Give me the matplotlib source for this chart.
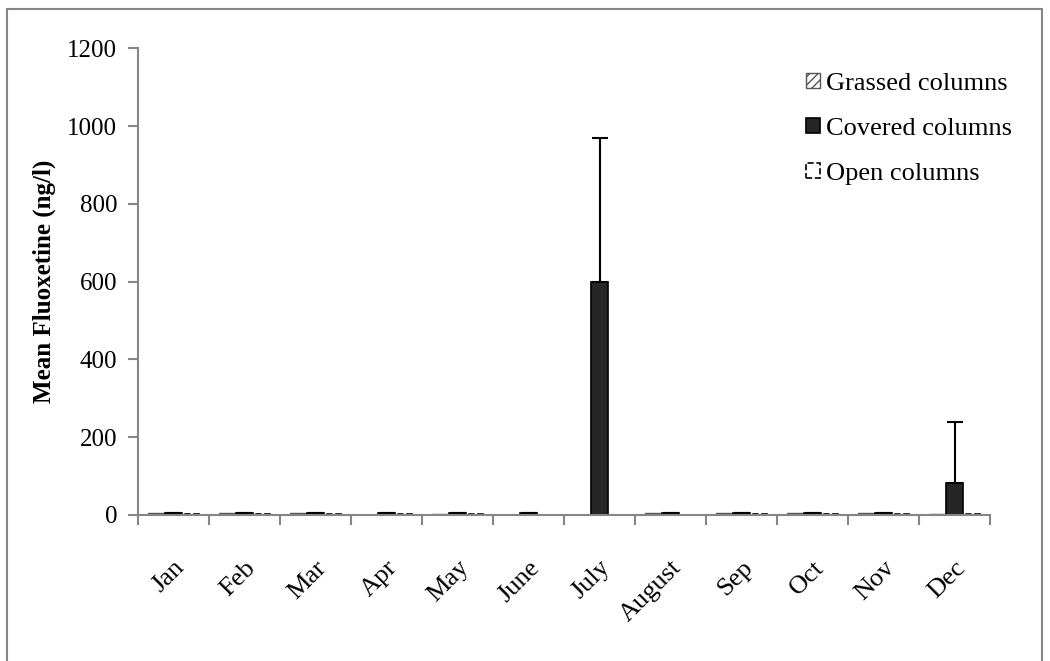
import numpy as np
import matplotlib
matplotlib.use("Agg")
import matplotlib.pyplot as plt
from matplotlib.patches import Rectangle

plt.rcParams['font.family'] = ['Liberation Serif', 'DejaVu Serif']
plt.rcParams['hatch.color'] = '#9a9a9a'
plt.rcParams['hatch.linewidth'] = 1.0

# Data
months = ["Jan", "Feb", "Mar", "Apr", "May", "June", "July", "August", "Sep", "Oct", "Nov", "Dec"]
grassed = [4, 4, 4, 0, 3, 0, 0, 4, 4, 4, 4, 3]
covered = [4, 4, 4, 4, 4, 4, 600, 4, 4, 4, 4, 82]
open_cols = [3, 3, 3, 3, 3, 0, 0, 0, 3, 3, 3, 3]
covered_err = [0, 0, 0, 0, 0, 0, 368, 0, 0, 0, 0, 158]

fig = plt.figure(figsize=(10.5, 6.61), dpi=100)
ax = fig.add_axes([0.1314, 0.221, 0.8116, 0.706])

x = np.arange(len(months))
w = 0.24
gray = '#868686'

ax.bar(x - w, grassed, w, color='white', edgecolor='#555555', hatch='////', linewidth=1.0,
       label='Grassed columns')
ax.bar(x, covered, w, color='#262626', edgecolor='black', linewidth=1.2,
       label='Covered columns')
ax.errorbar(x, covered, yerr=[np.zeros(len(covered)), covered_err], fmt='none',
            ecolor='black', elinewidth=1.5, capsize=6, capthick=1.5)
ax.bar(x + w, open_cols, w, color='white', edgecolor='black', linestyle='--', linewidth=1.2,
       label='Open columns')

ax.set_xlim(-0.5, len(months) - 0.5)
ax.set_ylim(0, 1200)
ax.set_yticks(range(0, 1201, 200))

ax.set_xticks(x)
ax.set_xticklabels(months, rotation=45, ha='right', rotation_mode='anchor', fontsize=19)
ax.set_xticks(np.arange(-0.5, len(months), 1), minor=True)
ax.tick_params(axis='x', which='major', length=0, pad=30)
ax.tick_params(axis='x', which='minor', length=7, width=1.5, color=gray, direction='out')
ax.tick_params(axis='y', length=7, width=1.5, color=gray, labelsize=18, pad=8)

for s in ['top', 'right']:
    ax.spines[s].set_visible(False)
for s in ['left', 'bottom']:
    ax.spines[s].set_color(gray)
    ax.spines[s].set_linewidth(1.5)

ax.set_ylabel('Mean Fluoxetine (ng/l)', fontsize=18, fontweight='bold', labelpad=8)

ax.legend(loc='upper left', bbox_to_anchor=(0.768, 0.89), bbox_transform=fig.transFigure,
          frameon=False, fontsize=19, handlelength=0.5, handleheight=0.5,
          handletextpad=0.25, labelspacing=0.87, borderaxespad=0, borderpad=0)

# outer frame
fig.patches.append(Rectangle((7 / 1050, -0.05), 1035 / 1050, 1.05 - 9 / 661,
                             transform=fig.transFigure, fill=False,
                             edgecolor=gray, linewidth=1.5, clip_on=False))

fig.savefig('out.png', dpi=100)
